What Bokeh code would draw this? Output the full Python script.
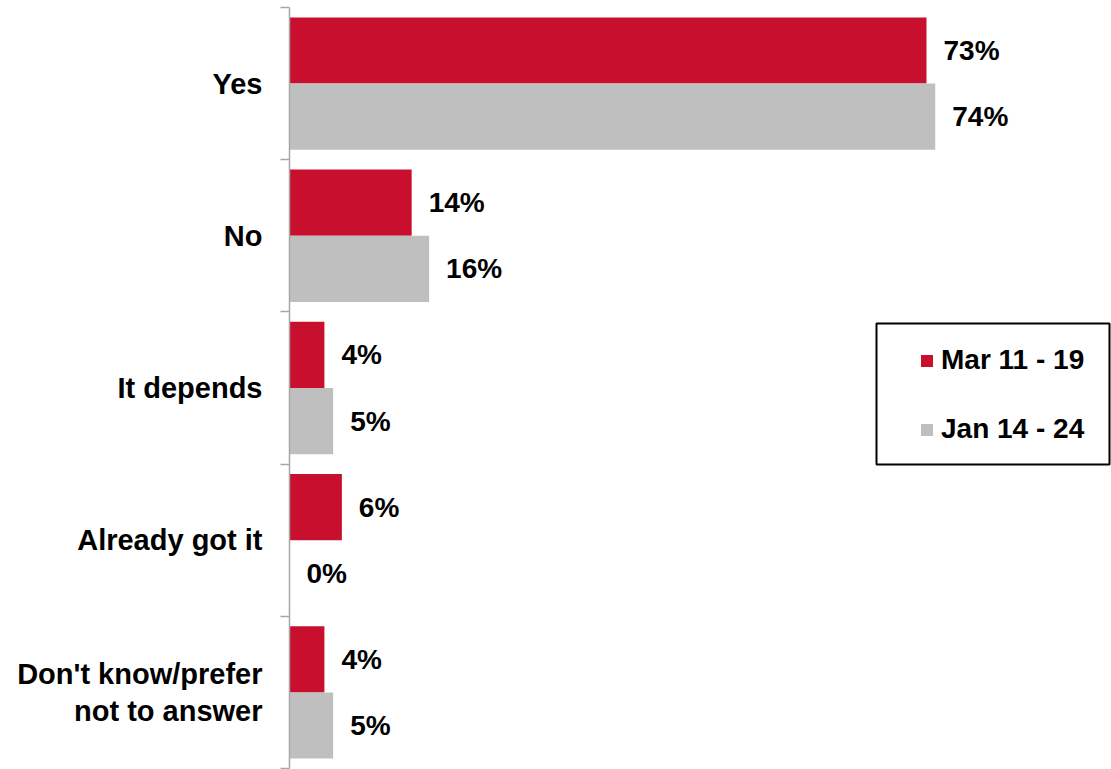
from bokeh.plotting import figure
from bokeh.models import Range1d, FixedTicker, Legend, LegendItem, BoxAnnotation
from bokeh.core.properties import value
from bokeh.embed import file_html
from bokeh.resources import INLINE

categories = ["Yes", "No", "It depends", "Already got it", "Don't know/prefer\nnot to answer"]
mar_values = [73, 14, 4, 6, 4]
jan_values = [74, 16, 5, 0, 5]
series_names = ["Mar 11 - 19", "Jan 14 - 24"]
series_colors = ["#C8102E", "#BFBFBF"]

FONT = "Liberation Sans"
W, H = 1111, 769
LEFT, TOP, BOTTOM = 289, 7, 1
XMAX = 94.2
PX_X = (W - LEFT) / XMAX                        # pixels per percent
PX_Y = (H - TOP - BOTTOM) / len(categories)     # pixels per category band

p = figure(width=W, height=H, output_backend="svg", toolbar_location=None,
           x_range=Range1d(0, XMAX), y_range=Range1d(len(categories), 0),
           min_border_left=LEFT, min_border_right=0, min_border_top=TOP, min_border_bottom=BOTTOM,
           background_fill_color="white", border_fill_color="white")
p.outline_line_color = None
p.xgrid.visible = False
p.ygrid.visible = False
p.xaxis.visible = False

centers = [i + 0.5 for i in range(len(categories))]
bar_h = 0.435
off = 0.2175
y_mar = [c - off for c in centers]
y_jan = [c + off for c in centers]

r_mar = p.hbar(y=y_mar, left=0, right=mar_values, height=bar_h,
               fill_color=series_colors[0], line_color=None)
r_jan = p.hbar(y=y_jan, left=0, right=jan_values, height=bar_h,
               fill_color=series_colors[1], line_color=None)

for ys, vals in ((y_mar, mar_values), (y_jan, jan_values)):
    p.text(x=vals, y=ys, text=[f"{v}%" for v in vals], x_offset=17,
           text_baseline="middle", text_align="left",
           text_font=value(FONT), text_font_style="bold", text_font_size="28px",
           text_color="black")

ax = p.yaxis[0]
ax.ticker = FixedTicker(ticks=centers, minor_ticks=list(range(len(categories) + 1)))
ax.major_label_overrides = {c: name for c, name in zip(centers, categories)}
ax.axis_line_color = "#A6A6A6"
ax.axis_line_width = 1.5
ax.major_tick_line_color = None
ax.major_tick_out = 0
ax.major_tick_in = 0
ax.minor_tick_line_color = "#A6A6A6"
ax.minor_tick_line_width = 1.5
ax.minor_tick_out = 9
ax.minor_tick_in = 0
ax.major_label_standoff = 18
ax.major_label_text_font = FONT
ax.major_label_text_font_style = "bold"
ax.major_label_text_font_size = "29px"
ax.major_label_text_color = "black"
ax.major_label_text_line_height = 1.15

legend = Legend(items=[LegendItem(label=series_names[0], renderers=[r_mar]),
                       LegendItem(label=series_names[1], renderers=[r_jan])],
                location=(630, 323),
                glyph_width=15, glyph_height=15, label_height=32, spacing=37,
                label_standoff=7, padding=10, margin=0,
                label_text_font=FONT, label_text_font_style="bold",
                label_text_font_size="28px", label_text_color="black",
                border_line_color=None, background_fill_alpha=0)
p.add_layout(legend)

box = BoxAnnotation(left=587 / PX_X, right=820 / PX_X, top=316 / PX_Y, bottom=457 / PX_Y,
                    fill_alpha=0, line_color="black", line_alpha=1.0, line_width=2)
p.add_layout(box)

open("out.html", "w").write(file_html(p, INLINE))
